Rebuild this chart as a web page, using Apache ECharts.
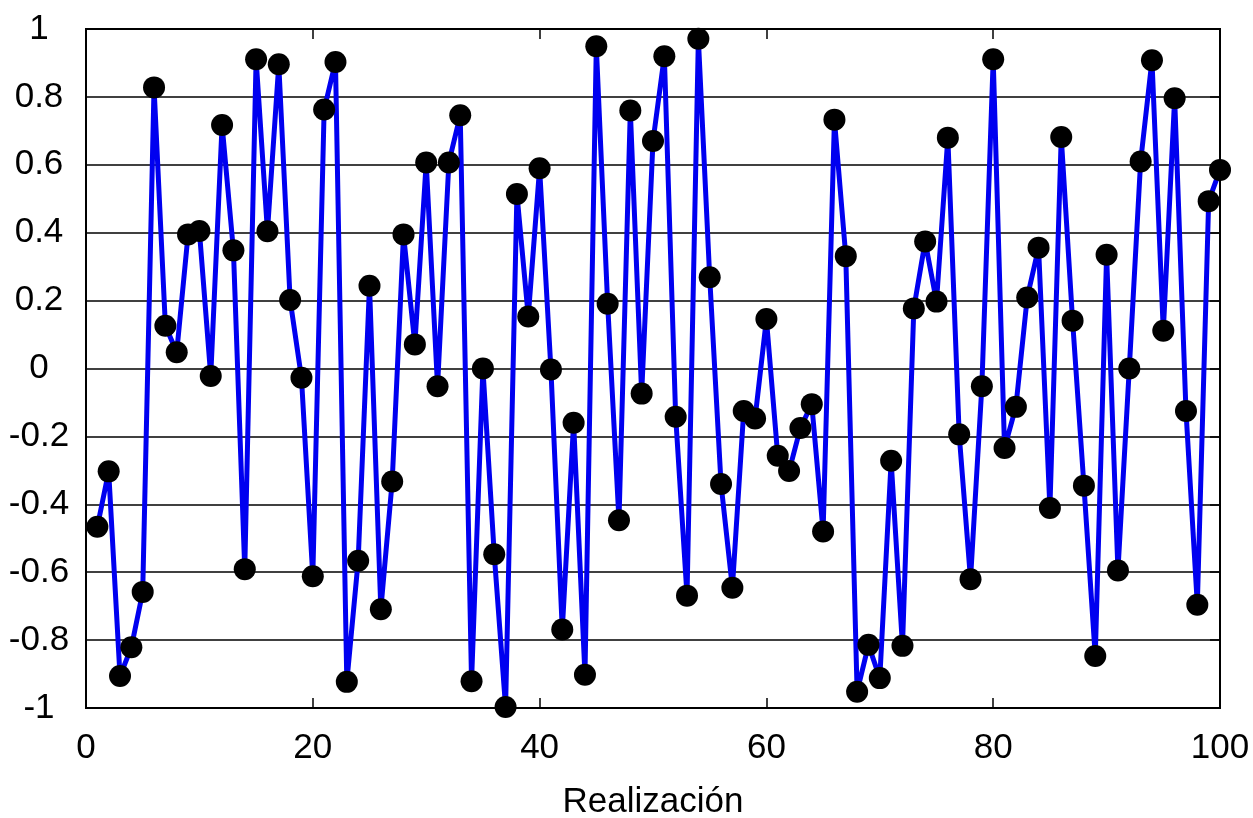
<!DOCTYPE html>
<html>
<head>
<meta charset="utf-8">
<script src="https://cdn.jsdelivr.net/npm/echarts@6/dist/echarts.min.js"></script>
<style>
html,body{margin:0;padding:0;background:#fff;}
#chart{width:1253px;height:818px;}
</style>
</head>
<body>
<div id="chart"></div>
<script>
const realizations = [1,2,3,4,5,6,7,8,9,10,11,12,13,14,15,16,17,18,19,20,
21,22,23,24,25,26,27,28,29,30,31,32,33,34,35,36,37,38,39,40,
41,42,43,44,45,46,47,48,49,50,51,52,53,54,55,56,57,58,59,60,
61,62,63,64,65,66,67,68,69,70,71,72,73,74,75,76,77,78,79,80,
81,82,83,84,85,86,87,88,89,90,91,92,93,94,95,96,97,98,99,100];
const values = [
-0.466,-0.303,-0.906,-0.821,-0.658,0.828,0.126,0.048,0.395,0.405,
-0.022,0.717,0.348,-0.591,0.911,0.404,0.896,0.202,-0.027,-0.612,
0.763,0.903,-0.923,-0.566,0.244,-0.709,-0.333,0.395,0.071,0.607,
-0.052,0.607,0.746,-0.921,0.000,-0.547,-0.997,0.514,0.153,0.590,
-0.003,-0.769,-0.160,-0.902,0.949,0.191,-0.447,0.760,-0.074,0.670,
0.920,-0.142,-0.669,0.971,0.269,-0.340,-0.646,-0.125,-0.147,0.146,
-0.257,-0.302,-0.175,-0.105,-0.480,0.733,0.331,-0.952,-0.814,-0.912,
-0.272,-0.817,0.177,0.374,0.197,0.680,-0.194,-0.621,-0.052,0.911,
-0.234,-0.113,0.209,0.356,-0.411,0.682,0.141,-0.345,-0.847,0.335,
-0.595,0.000,0.610,0.908,0.111,0.796,-0.125,-0.696,0.493,0.585];
const xTicks = {min: 0, max: 100, interval: 20};
const yTicks = {min: -1, max: 1, interval: 0.2};
const xName = 'Realización';

const font = '"Liberation Sans", Arial, Helvetica, sans-serif';
const data = realizations.map((x, i) => [x, values[i]]);

const chart = echarts.init(document.getElementById('chart'), null, {renderer: 'canvas'});
chart.setOption({
  animation: false,
  backgroundColor: '#fff',
  grid: {left: 86, top: 29, right: 33, bottom: 110, show: true, borderColor: '#000', borderWidth: 2,
    backgroundColor: 'transparent', outerBoundsMode: 'none', containLabel: false},
  xAxis: [{
    type: 'value', position: 'bottom',
    min: xTicks.min, max: xTicks.max, interval: xTicks.interval,
    name: xName, nameLocation: 'middle', nameGap: 77,
    nameTextStyle: {fontFamily: font, fontSize: 35, color: '#000'},
    axisLine: {show: false, onZero: false},
    axisTick: {show: true, inside: true, length: 10, lineStyle: {color: '#000', width: 1.5}},
    axisLabel: {fontFamily: font, fontSize: 35, color: '#000', margin: 23},
    splitLine: {show: false}
  }, {
    type: 'value', position: 'top',
    min: xTicks.min, max: xTicks.max, interval: xTicks.interval,
    axisLine: {show: false, onZero: false},
    axisTick: {show: true, inside: true, length: 10, lineStyle: {color: '#000', width: 1.5}},
    axisLabel: {show: false},
    splitLine: {show: false}
  }],
  yAxis: [{
    type: 'value', position: 'left',
    min: yTicks.min, max: yTicks.max, interval: yTicks.interval,
    axisLine: {show: false, onZero: false},
    axisTick: {show: false},
    axisLabel: {fontFamily: font, fontSize: 35, color: '#000', margin: 47, align: 'center', padding: [0,0,20,0],
      formatter: v => String(Math.round(v * 10) / 10)},
    splitLine: {show: true, lineStyle: {color: '#000', width: 1.5}}
  }, {
    type: 'value', position: 'right',
    min: yTicks.min, max: yTicks.max, interval: yTicks.interval,
    axisLine: {show: false, onZero: false},
    axisTick: {show: true, inside: true, length: 10, lineStyle: {color: '#000', width: 1.5}},
    axisLabel: {show: false},
    splitLine: {show: false}
  }],
  series: [{
    type: 'line',
    xAxisIndex: 0, yAxisIndex: 0,
    data: data,
    clip: false,
    lineStyle: {color: '#0000f0', width: 5},
    symbol: 'circle', symbolSize: 22,
    itemStyle: {color: '#000', borderWidth: 0},
    showAllSymbol: true
  }]
});
</script>
</body>
</html>
